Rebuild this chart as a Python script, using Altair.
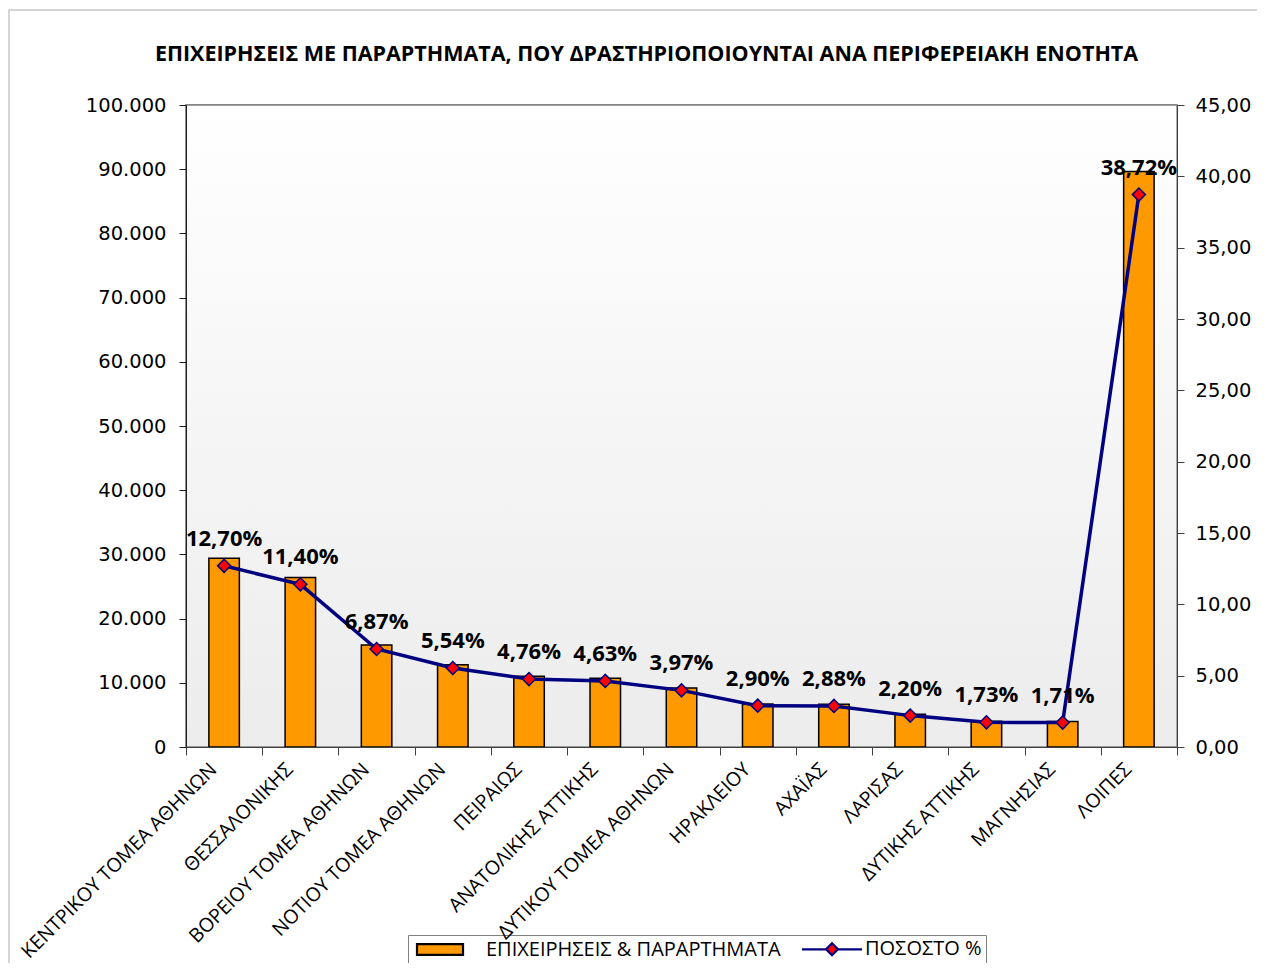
import altair as alt
import pandas as pd

categories = ["ΚΕΝΤΡΙΚΟΥ ΤΟΜΕΑ ΑΘΗΝΩΝ", "ΘΕΣΣΑΛΟΝΙΚΗΣ", "ΒΟΡΕΙΟΥ ΤΟΜΕΑ ΑΘΗΝΩΝ",
              "ΝΟΤΙΟΥ ΤΟΜΕΑ ΑΘΗΝΩΝ", "ΠΕΙΡΑΙΩΣ", "ΑΝΑΤΟΛΙΚΗΣ ΑΤΤΙΚΗΣ",
              "ΔΥΤΙΚΟΥ ΤΟΜΕΑ ΑΘΗΝΩΝ", "ΗΡΑΚΛΕΙΟΥ", "ΑΧΑΪΑΣ", "ΛΑΡΙΣΑΣ",
              "ΔΥΤΙΚΗΣ ΑΤΤΙΚΗΣ", "ΜΑΓΝΗΣΙΑΣ", "ΛΟΙΠΕΣ"]
counts = [29400, 26400, 15900, 12830, 11020, 10720, 9190, 6710, 6670, 5090, 4000, 3960, 89640]
percents = [12.70, 11.40, 6.87, 5.54, 4.76, 4.63, 3.97, 2.90, 2.88, 2.20, 1.73, 1.71, 38.72]
series_names = ["ΕΠΙΧΕΙΡΗΣΕΙΣ & ΠΑΡΑΡΤΗΜΑΤΑ", "ΠΟΣΟΣΤΟ %"]
title_text = "ΕΠΙΧΕΙΡΗΣΕΙΣ ΜΕ ΠΑΡΑΡΤΗΜΑΤΑ, ΠΟΥ ΔΡΑΣΤΗΡΙΟΠΟΙΟΥΝΤΑΙ ΑΝΑ ΠΕΡΙΦΕΡΕΙΑΚΗ ΕΝΟΤΗΤΑ"
left_ticks = [0, 10000, 20000, 30000, 40000, 50000, 60000, 70000, 80000, 90000, 100000]
right_ticks = [0, 5, 10, 15, 20, 25, 30, 35, 40, 45]

df = pd.DataFrame({"cat": categories, "count": counts, "pct": percents,
                   "series": series_names[1]})

W, H = 991, 642
ORANGE = "#ff9900"
NAVY = "#000080"
RED = "#ff0000"
AXIS_COLOR = "#404040"
TICK_FONT = "DejaVu Sans"
TEXT_FONT = "Open Sans"

x_enc = alt.X("cat:N", sort=categories,
              scale=alt.Scale(paddingInner=0, paddingOuter=0),
              axis=alt.Axis(title=None, labelAngle=-45, labelAlign="right",
                            labelBaseline="middle", tickBand="extent",
                            labelFont=TEXT_FONT, labelFontSize=19.5, labelColor="black",
                            labelPadding=11, labelOffset=-11, tickSize=8,
                            domainColor=AXIS_COLOR, tickColor=AXIS_COLOR,
                            labelLimit=400, zindex=1))

one_row = alt.Data(values=[{"k": 1}])

frame = alt.Chart(one_row).mark_rect(fill="white", fillOpacity=0, stroke="#c8c8c8",
                                     strokeWidth=1.5).encode(
    x=alt.value(-177), x2=alt.value(W + 90), y=alt.value(-95), y2=alt.value(H + 240))

grad = alt.Chart(one_row).mark_rect(
    color=alt.Gradient(gradient="linear",
                       stops=[alt.GradientStop(color="#ffffff", offset=0),
                              alt.GradientStop(color="#ececec", offset=1)],
                       x1=0, x2=0, y1=0, y2=1),
    stroke="#808080", strokeWidth=1.3
).encode(x=alt.value(0), x2=alt.value(W), y=alt.value(0), y2=alt.value(H))

bars = alt.Chart(df).mark_bar(width=alt.RelativeBandSize(0.4), color=ORANGE,
                              stroke="black", strokeWidth=1.5).encode(
    x=x_enc,
    y=alt.Y("count:Q", scale=alt.Scale(domain=[0, 100000], nice=False),
            axis=alt.Axis(title=None, orient="left", values=left_ticks, grid=False,
                          labelExpr="replace(format(datum.value, ','), ',', '.')",
                          labelFont=TICK_FONT, labelFontSize=19.5, labelColor="black",
                          tickSize=7, labelPadding=13, domainColor="#202020",
                          tickColor="#202020", zindex=1)))

y_right = alt.Y("pct:Q", scale=alt.Scale(domain=[0, 45], nice=False),
                axis=alt.Axis(title=None, orient="right", values=right_ticks, grid=False,
                              labelExpr="replace(format(datum.value, '.2f'), '.', ',')",
                              labelFont=TICK_FONT, labelFontSize=19.5, labelColor="black",
                              tickSize=7, labelPadding=11, domainColor=AXIS_COLOR,
                              tickColor=AXIS_COLOR, zindex=1))

line = alt.Chart(df).mark_line(color=NAVY, strokeWidth=3.5).encode(x=x_enc, y=y_right)

points = alt.Chart(df).mark_point(shape="diamond", filled=True, fill=RED, stroke=NAVY,
                                  size=170, strokeWidth=1.5, opacity=1).encode(
    x=x_enc, y=y_right)

labels = alt.Chart(df).transform_calculate(
    label="replace(format(datum.pct, '.2f'), '.', ',') + '%'"
).mark_text(dy=-27, fontSize=22, fontWeight="bold", font=TEXT_FONT, color="black").encode(
    x=x_enc, y=y_right, text="label:N")

# legend-only layer (no rows drawn): the legend is built from the explicit scale domains
rect_path = "M-6,-0.9H1.67V0.9H-6Z"
line_diamond_path = "M-5,0H-1M1,0H5M0,-1L1,0L0,1L-1,0Z"
legend = alt.Legend(title=None, orient="none", legendX=222, legendY=830,
                    direction="horizontal", strokeColor="#808080", padding=4,
                    labelFont=TEXT_FONT, labelFontSize=20, labelColor="black",
                    symbolSize=144, symbolOffset=31, labelOffset=23,
                    columnPadding=10, symbolStrokeWidth=2.2, labelLimit=500)

legend_layer = alt.Chart(df).transform_filter("false").mark_point(
    filled=True, opacity=1).encode(
    x=x_enc, y=y_right,
    shape=alt.Shape("series:N", scale=alt.Scale(domain=series_names,
                                                range=[rect_path, line_diamond_path]),
                    legend=legend),
    fill=alt.Fill("series:N", scale=alt.Scale(domain=series_names,
                                              range=[ORANGE, RED]), legend=legend),
    stroke=alt.Stroke("series:N", scale=alt.Scale(domain=series_names,
                                                  range=["#000000", NAVY]), legend=legend))

left = alt.layer(frame, grad, bars)
right = alt.layer(line, points, labels, legend_layer)

chart = alt.layer(left, right).resolve_scale(y="independent").properties(
    width=W, height=H,
    autosize=alt.AutoSizeParams(type="none"),
    padding={"left": 178, "top": 97, "right": 80, "bottom": 216},
    title=alt.TitleParams(title_text, font=TEXT_FONT, fontSize=21.5, fontWeight="bold",
                          color="black", anchor="middle", frame="group", dx=-35,
                          offset=-56)
).configure_view(stroke="#808080", strokeWidth=1.5)

chart.save("out.html", embed_options={"renderer": "svg", "actions": False})
